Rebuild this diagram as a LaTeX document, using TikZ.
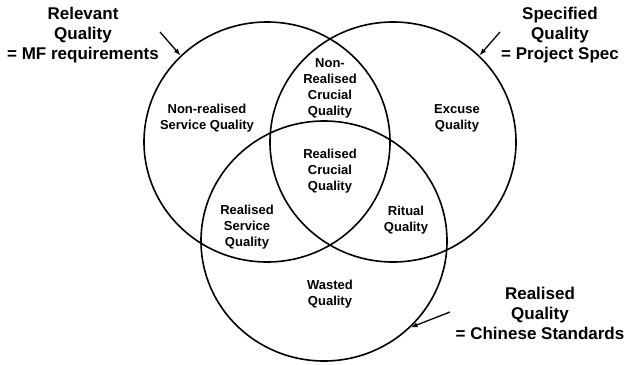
\documentclass[tikz,border=0pt]{standalone}
\usepackage{fontspec}
\setmainfont{Liberation Sans}
\usetikzlibrary{shapes.geometric,arrows.meta}
\begin{document}
\begin{tikzpicture}[x=1pt,y=-1pt,
  setring/.style={draw,ellipse,line width=1.6pt,minimum width=246pt,minimum height=240pt,inner sep=0pt},
  region/.style={align=center,font=\bfseries\fontsize{13}{16}\selectfont,inner sep=0pt},
  caption/.style={align=center,font=\bfseries\fontsize{17}{20}\selectfont,inner sep=0pt},
  pointer/.style={line width=1.3pt,-{Latex[length=7pt,width=5pt]}}]
\useasboundingbox (0,0) rectangle (626,364);

% the three quality sets
\node[setring] (rel) at (267,142) {};
\node[setring] (spec) at (393,142) {};
\node[setring] (real) at (324,241) {};

% regions of the diagram
\node[region] (nrsq) at (207,118) {Non-realised\\Service Quality};
\node[region] (nrcq) at (330,88) {Non-\\Realised\\Crucial\\Quality};
\node[region] (exq) at (457,118) {Excuse\\Quality};
\node[region] (rcq) at (330,171) {Realised\\Crucial\\Quality};
\node[region] (rsq) at (247,227) {Realised\\Service\\Quality};
\node[region] (ritq) at (406,220) {Ritual\\Quality};
\node[region] (wq) at (330,294) {Wasted\\Quality};

% set captions
\node[caption] (relcap) at (83,35) {Relevant\\Quality\\= MF requirements};
\node[caption] (speccap) at (560,35) {Specified\\Quality\\= Project Spec};
\node[caption] (realcap) at (540,313) {Realised\\Quality\\= Chinese Standards};

% pointers from captions to their sets
\coordinate (relfrom) at (160,32);
\coordinate (specfrom) at (500,32);
\coordinate (realfrom) at (450,312);
\draw[pointer] (relfrom) -- (rel.135);
\draw[pointer] (specfrom) -- (spec.45);
\draw[pointer] (realfrom) -- (real.-45);
\end{tikzpicture}
\end{document}
